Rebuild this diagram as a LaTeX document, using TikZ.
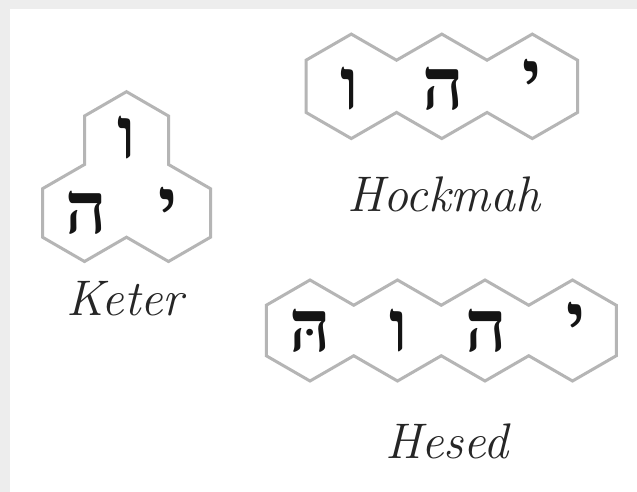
\documentclass[tikz,border=0pt]{standalone}
\usepackage{fontspec}
\TeXXeTstate=1
\newfontfamily\hebfont[Script=Hebrew]{Liberation Serif}
\definecolor{hexGrey}{HTML}{B5B5B5}
\definecolor{frameGrey}{HTML}{EDEDED}
\definecolor{letterInk}{HTML}{141414}

\begin{document}
\begin{tikzpicture}[x=1pt,y=-1pt,line join=miter]
\path[fill=frameGrey] (0,0) rectangle (637,492);
\path[fill=white] (10,9) rectangle (637,492);
\tikzset{hexline/.style={draw=hexGrey,line width=3pt},letter/.style={text=letterInk,font=\hebfont\bfseries\fontsize{72}{72}\selectfont,inner sep=0pt},title/.style={text=black!85,anchor=base,font=\fontsize{50}{56}\selectfont\itshape}}
% Keter: three cells
\draw[hexline] (126.5,91.7) -- (168.5,116) -- (168.5,164.5) -- (210.5,188.7) -- (210.5,237.2) -- (168.5,261.5) -- (126.5,237.2) -- (84.5,261.5) -- (42.5,237.2) -- (42.5,188.7) -- (84.5,164.5) -- (84.5,116) -- cycle;
\node[letter] (keterVav) at (126.5,137.5) {\beginR ו\endR};
\node[letter] (keterHe) at (86.5,212.5) {\beginR ה\endR};
\node[letter] (keterYod) at (168,208.5) {\beginR י\endR};
\node[title] (keterName) at (125,315) {Keter};
% Hockmah: three cells in a row
\draw[hexline] (306.05,60.2) foreach \c in {1,2,3}{ -- ++(45.25,-26.1) -- ++(45.25,26.1)} -- ++(0,52.25) foreach \c in {1,2,3}{ -- ++(-45.25,26.1) -- ++(-45.25,-26.1)} -- cycle;
\node[letter] (hockVav) at (350,88.5) {\beginR ו\endR};
\node[letter] (hockHe) at (443.5,89) {\beginR ה\endR};
\node[letter] (hockYod) at (532,80) {\beginR י\endR};
\node[title] (hockName) at (444,211.7) {Hockmah};
% Hesed: four cells in a row
\draw[hexline] (266.25,305.25) foreach \c in {1,2,3,4}{ -- ++(43.75,-25.25) -- ++(43.75,25.25)} -- ++(0,50.5) foreach \c in {1,2,3,4}{ -- ++(-43.75,25.25) -- ++(-43.75,-25.25)} -- cycle;
\node[letter] (hesedHeDot) at (310,331) {\beginR הּ\endR};
\node[letter] (hesedVav) at (398.5,331) {\beginR ו\endR};
\node[letter] (hesedHe) at (486.5,331) {\beginR ה\endR};
\node[letter] (hesedYod) at (576,323) {\beginR י\endR};
\node[title] (hesedName) at (447,458) {Hesed};
\end{tikzpicture}
\end{document}
